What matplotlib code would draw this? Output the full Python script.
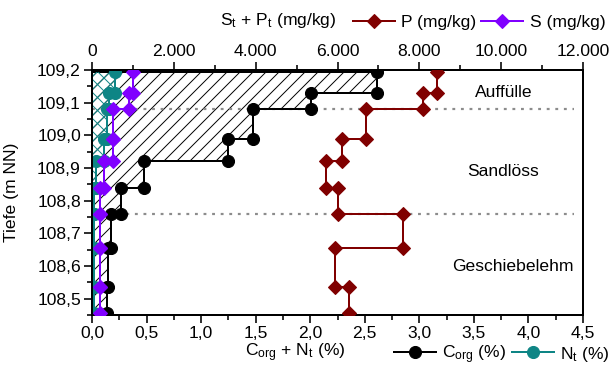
import numpy as np
import matplotlib
matplotlib.use("Agg")
import matplotlib.pyplot as plt
from matplotlib.lines import Line2D

plt.rcParams['font.family'] = ['Liberation Sans', 'DejaVu Sans']
plt.rcParams['mathtext.fontset'] = 'custom'
plt.rcParams['mathtext.rm'] = 'Liberation Sans'
plt.rcParams['mathtext.it'] = 'Liberation Sans:italic'
plt.rcParams['hatch.linewidth'] = 0.9

# ---- data ----
depth_bounds = [109.194, 109.13, 109.08, 108.99, 108.92, 108.84, 108.76, 108.655, 108.535, 108.455]
c_org = [2.61, 2.01, 1.48, 1.25, 0.48, 0.27, 0.17, 0.15, 0.14]        # %
n_t = [0.21, 0.155, 0.14, 0.11, 0.035, 0.02, 0.02, 0.02, 0.02]        # %
p_mg = [8430, 8090, 6700, 6110, 5720, 6010, 7600, 5940, 6280]       # mg/kg
s_mg = [1000, 910, 520, 520, 300, 200, 200, 200, 200]               # mg/kg
boundary_depths = [109.08, 108.76]
layers = ["Auffülle", "Sandlöss", "Geschiebelehm"]
layer_pos = [(3.77, 109.13), (3.77, 108.888), (3.86, 108.60)]

bottom_ticks = [0.0, 0.5, 1.0, 1.5, 2.0, 2.5, 3.0, 3.5, 4.0, 4.5]
bottom_labels = ["0,0", "0,5", "1,0", "1,5", "2,0", "2,5", "3,0", "3,5", "4,0", "4,5"]
top_ticks = [0, 2000, 4000, 6000, 8000, 10000, 12000]
top_labels = ["0", "2.000", "4.000", "6.000", "8.000", "10.000", "12.000"]
left_ticks = [108.5, 108.6, 108.7, 108.8, 108.9, 109.0, 109.1, 109.2]
left_labels = ["108,5", "108,6", "108,7", "108,8", "108,9", "109,0", "109,1", "109,2"]

# ---- figure ----
DPI = 78
W, H = 611, 369
pt = 72.0 / DPI
fig = plt.figure(figsize=(W / DPI, H / DPI), dpi=DPI)
L, R, T, B = 92, 583, 70, 315
ax = fig.add_axes([L / W, 1 - B / H, (R - L) / W, (B - T) / H])
ax.set_xlim(0, 4.5)
ax.set_ylim(108.455, 109.2)
ax2 = ax.twiny()
ax2.set_xlim(0, 12000)

d = np.array(depth_bounds)
ystep = np.column_stack([d[:-1], d[1:]]).ravel()

def xstep(v):
    return np.repeat(np.array(v, dtype=float), 2)

fs = 17.5 * pt
teal = '#0e8585'
purple = '#8000ff'
maroon = '#800000'

# hatched areas
ax.fill_betweenx(ystep, 0, xstep(c_org), hatch='//', facecolor='none',
                 edgecolor='black', linewidth=2 * pt, zorder=1)
ax.fill_betweenx(ystep, 0, xstep(n_t), hatch='xx', facecolor='none',
                 edgecolor=teal, linewidth=0, zorder=1.5)

# layer boundaries
for bd in boundary_depths:
    ax.plot([0, 4.42], [bd, bd], color='#8c8c8c', lw=2.2 * pt,
            linestyle=(0, (1.3, 2.6)), zorder=2)

ax.plot(xstep(c_org), ystep, color='black', lw=2 * pt, marker='o',
        ms=12 * pt, zorder=3)
ax.plot(xstep(n_t), ystep, color=teal, lw=2 * pt, marker='o',
        ms=12 * pt, zorder=4)
ax2.plot(xstep(p_mg), ystep, color=maroon, lw=2 * pt, marker='D',
         ms=9.5 * pt, zorder=3)
ax2.plot(xstep(s_mg), ystep, color=purple, lw=2 * pt, marker='D',
         ms=9.5 * pt, zorder=4)

for txt, (x, y) in zip(layers, layer_pos):
    ax.text(x, y, txt, ha='center', va='center', fontsize=fs, zorder=5)

# ticks & spines
ax.set_xticks(bottom_ticks)
ax.set_xticklabels(bottom_labels)
ax.set_xticks(np.arange(0.25, 4.5, 0.5), minor=True)
ax.set_yticks(left_ticks)
ax.set_yticklabels(left_labels)
ax.set_yticks(np.arange(108.45, 109.2, 0.1), minor=True)
ax2.set_xticks(top_ticks)
ax2.set_xticklabels(top_labels)
ax2.set_xticks(np.arange(1000, 12000, 2000), minor=True)

for a in (ax, ax2):
    a.tick_params(which='major', direction='out', length=8 * pt, width=1.6 * pt,
                  labelsize=fs, pad=3 * pt)
    a.tick_params(which='minor', direction='out', length=5 * pt, width=1.6 * pt)
    for s in a.spines.values():
        s.set_linewidth(2 * pt)
ax.tick_params(right=False, top=False, which='both')

# labels
fig.text(12 / W, 1 - 192 / H, "Tiefe (m NN)", rotation=90, ha='center', va='center', fontsize=fs)
fig.text(295 / W, 1 - 353 / H, "C$_\\mathrm{org}$ + N$_\\mathrm{t}$ (%)", ha='center', va='center', fontsize=fs)
fig.text(278 / W, 1 - 20 / H, "S$_\\mathrm{t}$ + P$_\\mathrm{t}$ (mg/kg)", ha='center', va='center', fontsize=fs)

h_top = [Line2D([], [], color=maroon, lw=2 * pt, marker='D', ms=9.5 * pt),
         Line2D([], [], color=purple, lw=2 * pt, marker='D', ms=9.5 * pt)]
fig.legend(h_top, ["P (mg/kg)", "S (mg/kg)"], loc='center',
           bbox_to_anchor=(479 / W, 1 - 22 / H), ncol=2, frameon=False,
           fontsize=fs, handlelength=2.4, handletextpad=0.35, columnspacing=0.3,
           borderpad=0, borderaxespad=0)
h_bot = [Line2D([], [], color='black', lw=2 * pt, marker='o', ms=12 * pt),
         Line2D([], [], color=teal, lw=2 * pt, marker='o', ms=12 * pt)]
fig.legend(h_bot, ["C$_\\mathrm{org}$ (%)", "N$_\\mathrm{t}$ (%)"], loc='center',
           bbox_to_anchor=(502 / W, 1 - 355 / H), ncol=2, frameon=False,
           fontsize=fs, handlelength=2.4, handletextpad=0.35, columnspacing=0.3,
           borderpad=0, borderaxespad=0)

fig.savefig("out.png", dpi=DPI)
